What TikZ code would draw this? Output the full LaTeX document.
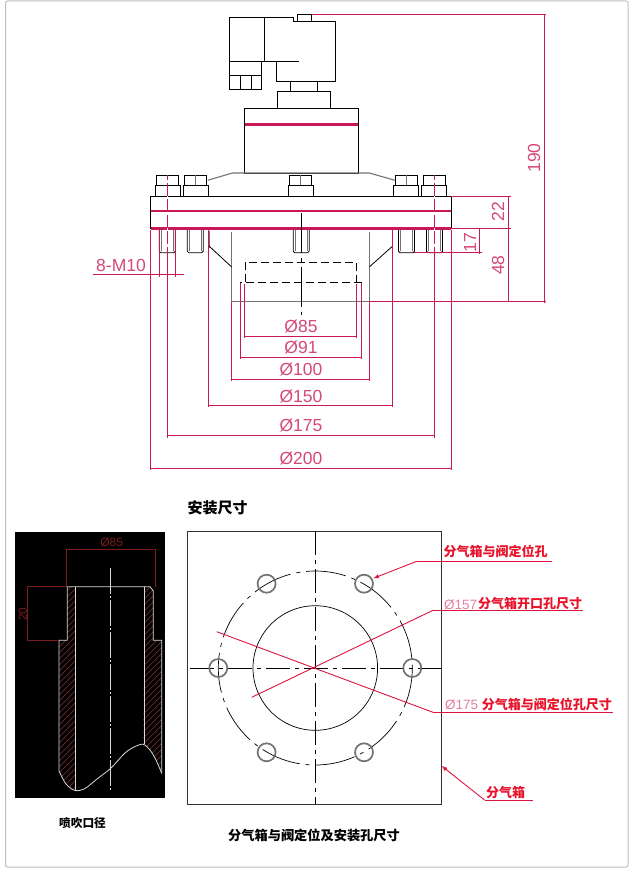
\documentclass[tikz,border=0pt]{standalone}
\usepackage{fontspec}
\setmainfont{Liberation Sans}
\newfontfamily\cjk{Noto Sans CJK SC}
\definecolor{dimred}{HTML}{C8185A}
\definecolor{dimtext}{HTML}{D4487A}
\definecolor{darkdim}{HTML}{7A1C1C}
\definecolor{hatchred}{HTML}{6E2A2A}
\definecolor{notered}{HTML}{E8132A}
\tikzset{
  part/.style={draw=black,line width=0.8pt},
  grayline/.style={draw=black!55,line width=1.1pt},
  dimline/.style={draw=dimred,line width=0.8pt},
  dimlabel/.style={text=dimtext,font=\fontsize{17.5}{17.5}\selectfont,inner sep=0pt},
  centerline/.style={draw=black,line width=0.7pt,dash pattern=on 24pt off 5pt on 4pt off 5pt},
  leader/.style={draw=notered!60!dimred,line width=0.9pt},
  holering/.style={draw=black!55,line width=1.7pt},
  notelabel/.style={text=notered,font=\cjk\bfseries\fontsize{13}{13}\selectfont,inner sep=0pt,anchor=west},
  sizelabel/.style={text=dimtext!70,font=\fontsize{13.5}{13.5}\selectfont,inner sep=0pt,anchor=west},
  caption/.style={text=black,font=\cjk\bfseries\fontsize{#1}{#1}\selectfont,inner sep=0pt}
}
\begin{document}
\begin{tikzpicture}[x=1pt,y=-1pt]
  \useasboundingbox (0,0) rectangle (640,880);
  \draw [draw=black!25,line width=1pt,rounded corners=2pt] (5.5,1) rectangle (628,867);

  % valve
  \draw [part] (229.3,89.3) -- (229.3,17.3) -- (293.7,17.3) -- (293.7,21.3) -- (335.3,21.3) -- (335.3,81.3) -- (276.3,81.3) -- (276.3,61.3);
  \draw [part] (264.7,17.3) -- (264.7,61.3);
  \draw [part] (229.3,61.3) -- (299,61.3);
  \draw [part] (261.7,61.3) -- (261.7,89.3) -- (229.3,89.3);
  \draw [part] (229.3,75.3) -- (261.7,75.3);
  \draw [part] (240.3,75.3) -- (240.3,89.3);
  \draw [part] (251.3,75.3) -- (251.3,89.3);
  \draw [part] (297.3,14.3) rectangle (311.7,21.3);
  \draw [part] (290.3,81.3) -- (290.3,91.3);
  \draw [part] (317.3,81.3) -- (317.3,91.3);
  \draw [part] (277.3,91.3) rectangle (330.3,108.3);
  \draw [part] (244.3,108.3) rectangle (358.7,173);
  \draw [draw=dimred,line width=2.5pt] (245,124.3) -- (358,124.3);
  \draw [grayline] (207.7,180.3) -- (232.3,173) -- (369.3,173) -- (395,180.3);

  % bolts
  \foreach \x in {167.8,195.8,300.8,406.3,434.2}
  {
    \draw [part] (\x-12.5,196.3) -- (\x-12.5,185.3) -- (\x+12.5,185.3) -- (\x+12.5,196.3);
    \draw [part] (\x-11,185.3) -- (\x-11,175) -- (\x+11,175) -- (\x+11,185.3);
    \draw [grayline] (\x,175) -- (\x,185.3);
  }
  \foreach \x in {167.3,195.3,301.2,406.5,434.5}
  {
    \draw [part,rounded corners=1.5pt] (\x-8,230) -- (\x-8,252.7) -- (\x+8,252.7) -- (\x+8,230);
    \draw [grayline] (\x-6,230) -- (\x-6,251);
    \draw [grayline] (\x+6,230) -- (\x+6,251);
  }

  % flange and nozzle
  \draw [part] (150.5,228.7) -- (150.5,196.3) -- (451.3,196.3) -- (451.3,228.7);
  \draw [draw=dimred,line width=1.8pt] (150.5,211) -- (451.3,211);
  \draw [draw=dimred,line width=2.8pt] (150.5,228.7) -- (451.3,228.7);
  \draw [grayline] (231.7,231.7) -- (231.7,301.5) -- (369.3,301.5) -- (369.3,231.7);
  \draw [grayline] (209,231) -- (209,248);
  \draw [grayline] (392.7,231) -- (392.7,248);
  \draw [part] (209,246) -- (231.7,267);
  \draw [part] (392.7,246) -- (369.3,267);
  \draw [part,dash pattern=on 8pt off 4pt] (245,282) -- (245,262.3) -- (356.7,262.3) -- (356.7,282);
  \draw [part,dash pattern=on 8pt off 4pt] (240.7,301) -- (240.7,282.7) -- (361.7,282.7) -- (361.7,301);
  \draw [part,dash pattern=on 40pt off 5pt on 4pt off 5pt] (301.5,213) -- (301.5,315);

  % dimensions below
  \draw [dimline] (167.3,175) -- (167.3,438);
  \draw [dimline] (434.7,175) -- (434.7,438);
  \draw [draw=white,line width=1pt,dash pattern=on 3pt off 13pt] (167.3,180) -- (167.3,250);
  \draw [draw=white,line width=1pt,dash pattern=on 3pt off 13pt] (434.7,180) -- (434.7,250);
  \foreach \xa/\xb/\ya/\yb/\ytext/\dimtext in {
    244.7/356.7/284/336.7/326.7/85,
    240.4/361.4/282.7/357.3/347.3/91,
    231.7/369.3/301.5/379/369.3/100,
    208.5/392.7/230/405.7/396/150,
    167.3/434.7/435/435/425/175,
    150.7/451.3/230/468.3/458/200}
  {
    \draw [dimline] (\xa,\ya) -- (\xa,\yb+1.5);
    \draw [dimline] (\xb,\ya) -- (\xb,\yb+1.5);
    \draw [dimline] (\xa,\yb) -- (\xb,\yb);
    \node (dia\dimtext) [dimlabel] at (301,\ytext) {Ø\dimtext};
  }

  % dimensions left and right
  \draw [dimline] (93,274.3) -- (184,274.3);
  \draw [dimline] (159.3,230) -- (159.3,277);
  \draw [dimline] (175.3,230) -- (175.3,277);
  \node (threadlabel) [dimlabel,anchor=south west] at (96,272) {8-M10};
  \draw [dimline] (311.7,14.5) -- (546,14.5);
  \draw [dimline] (544,14.5) -- (544,303);
  \draw [dimline] (369.3,301.7) -- (546,301.7);
  \draw [dimline] (451.3,196.5) -- (511,196.5);
  \draw [dimline] (451.3,228.7) -- (511,228.7);
  \draw [dimline] (508.7,196.5) -- (508.7,301.7);
  \draw [dimline] (414,252.7) -- (482,252.7);
  \draw [dimline] (479,228.7) -- (479,254);
  \node (height190) [dimlabel,rotate=90] at (534,158) {190};
  \node (height22) [dimlabel,rotate=90] at (498,211.7) {22};
  \node (height48) [dimlabel,rotate=90] at (498,265) {48};
  \node (height17) [dimlabel,rotate=90] at (470,242.7) {17};

  \node (mounttitle) [caption=15] at (217.5,508) {安装尺寸};

  % blow pipe section
  \fill [black] (15,532.3) rectangle (165,797.7);
  \begin{scope}
    \clip plot [smooth] coordinates {(59,771) (66,784) (75.7,790.7)} -- (75.7,586.7) -- (67.3,586.7) -- (67.3,640.3) -- (59,640.3) -- cycle;
    \foreach \y in {0,6,...,300}
    \draw [draw=hatchred,line width=0.7pt] (50,590+\y) -- (85,555+\y);
  \end{scope}
  \begin{scope}
    \clip plot [smooth] coordinates {(143.3,744.3) (150,750) (156,760) (161.7,773.3)} -- (161.7,640.3) -- (153.3,640.3) -- (153.3,586.7) -- (144.3,586.7) -- cycle;
    \foreach \y in {0,6,...,300}
    \draw [draw=hatchred,line width=0.7pt] (135,590+\y) -- (170,555+\y);
  \end{scope}
  \begin{scope}[draw=white!85!black,line width=0.8pt]
    \draw (75.7,586.7) -- (75.7,790.7);
    \draw (144.3,586.7) -- (144.3,744.3);
    \draw (161.7,773.3) -- (161.7,640.3) -- (153.3,640.3) -- (153.3,591) -- (150,586.7) -- (67.3,586.7) -- (67.3,640.3) -- (59,640.3) -- (59,771);
    \draw plot [smooth] coordinates {(59,771) (66,784) (75,790.5) (85,788.5) (97,779) (110.7,768.3) (125,753) (135,746.5) (143.3,744.3) (150,750) (156,760) (161.7,773.3)};
    \draw [dash pattern=on 26pt off 2pt on 2pt off 2pt] (110.7,568.3) -- (110.7,791.7);
  \end{scope}
  \begin{scope}[draw=darkdim,line width=0.8pt]
    \draw (66.7,586.7) -- (66.7,549) -- (155,549) -- (155,586.7);
    \draw (67,586.7) -- (27.3,586.7) -- (27.3,640.3) -- (59,640.3);
  \end{scope}
  \node (pipedia) [text=darkdim,inner sep=0pt,font=\fontsize{12}{12}\selectfont] at (111.7,542.3) {Ø85};
  \node (pipelen) [text=darkdim,inner sep=0pt,rotate=90,font=\fontsize{12}{12}\selectfont] at (22.7,614.3) {20};
  \node (pipecaption) [caption=11.7] at (82.5,823) {喷吹口径};

  % header plate
  \draw [draw=black!80,line width=1pt] (187.7,531) rectangle (441.7,804.3);
  \draw [centerline] (315.3,531) -- (315.3,804.3);
  \draw [centerline] (190,668) -- (441.7,668);
  \draw [part,line width=0.7pt] (315.3,668) circle (62.3);
  \draw [part,line width=0.7pt,dash pattern=on 40pt off 6pt on 4pt off 6pt] (315.3,668) circle (97);
  \foreach \dx/\dy in {-97/0,97/0,-48.7/-84.3,48.7/-84.3,-48.7/84.3,48.7/84.3}
  \draw [holering] (315.3+\dx,668+\dy) circle (9);
  \draw [leader,-latex] (416.7,561.3) -- (373.3,578.3);
  \draw [leader] (416.7,561.3) -- (551.7,561.3);
  \coordinate (bendA) at (433,610.3);
  \coordinate (endA) at (251.7,697.3);
  \coordinate (bendB) at (433,712.3);
  \coordinate (endB) at (216.7,631.7);
  \draw [leader] (bendA) -- (endA);
  \draw [leader] (bendA) -- (583,610.3);
  \draw [leader] (bendB) -- (endB);
  \draw [leader] (bendB) -- (613,712.3);
  \draw [leader,-latex] (484.5,800) -- (441.7,766);
  \draw [leader] (484.5,800) -- (532.7,800);

  \node (holenote) [notelabel] at (443.3,551.7) {分气箱与阀定位孔};
  \node (opensize) [sizelabel] at (444,604.7) {Ø157};
  \node (opennote) [notelabel] at (478,604) {分气箱开口孔尺寸};
  \node (pitchsize) [sizelabel] at (445,705) {Ø175};
  \node (pitchnote) [notelabel] at (481.7,704.5) {分气箱与阀定位孔尺寸};
  \node (headernote) [notelabel] at (486,792.7) {分气箱};
  \node (platecaption) [caption=13.2] at (314,835) {分气箱与阀定位及安装孔尺寸};
\end{tikzpicture}
\end{document}
